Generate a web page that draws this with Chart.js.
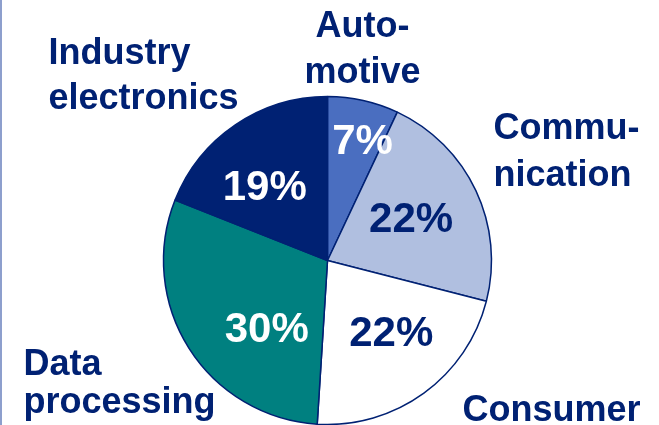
<!DOCTYPE html>
<html>
<head>
<meta charset="utf-8">
<script src="https://cdn.jsdelivr.net/npm/chart.js@4"></script>
<style>
  html, body { margin: 0; padding: 0; background: #ffffff; }
  #wrap { position: relative; width: 659px; height: 425px; overflow: hidden; }
  #edge { position: absolute; left: 0; top: 0; width: 2px; height: 425px; background: #8d9fcd; }
  canvas { position: absolute; left: 0; top: 0; }
</style>
</head>
<body>
<div id="wrap">
  <canvas id="c" width="659" height="425"></canvas>
  <div id="edge"></div>
</div>
<script>
// ---- data ----
const categories = ["Automotive", "Communication", "Consumer", "Data processing", "Industry electronics"];
const shares = [7, 22, 22, 30, 19];
const categoryLabelLines = [["Auto-", "motive"], ["Commu-", "nication"], ["Consumer"], ["Data", "processing"], ["Industry", "electronics"]];

// ---- styles ----
const sliceColors = ["#4a6ec0", "#b0bfe0", "#ffffff", "#008080", "#002173"];
const pctColors = ["#ffffff", "#002173", "#002173", "#ffffff", "#ffffff"];
const navy = "#002173";
// percentage label placement relative to each slice: angular nudge (deg) and radius fraction
const pctPlacement = [
  { da: 3.7, rf: 0.76 },
  { da: -1.4, rf: 0.57 },
  { da: -5.6, rf: 0.585 },
  { da: -15.7, rf: 0.555 },
  { da: -6.2, rf: 0.59 }
];
// category label layout relative to pie centre: x offset, first baseline offset, line gap, alignment
const catPlacement = [
  { dx: 35, dy: -224, gap: 46, align: "center" },
  { dx: 166, dy: -122, gap: 47, align: "left" },
  { dx: 135, dy: 160, gap: 46, align: "left" },
  { dx: -304, dy: 114, gap: 38, align: "left" },
  { dx: -279, dy: -197, gap: 45, align: "left" }
];

const labelPlugin = {
  id: "pieLabels",
  afterDatasetsDraw(chart) {
    const ctx = chart.ctx;
    const meta = chart.getDatasetMeta(0);
    ctx.save();
    ctx.textBaseline = "middle";
    meta.data.forEach((arc, i) => {
      const p = arc.getProps(["x", "y", "startAngle", "endAngle", "outerRadius"], true);
      const mid = (p.startAngle + p.endAngle) / 2 + pctPlacement[i].da * Math.PI / 180;
      const r = p.outerRadius * pctPlacement[i].rf;
      const x = p.x + Math.cos(mid) * r;
      const y = p.y + Math.sin(mid) * r;
      ctx.font = "bold 42px 'Liberation Sans', Arial, sans-serif";
      ctx.fillStyle = pctColors[i];
      ctx.textAlign = "center";
      ctx.fillText(shares[i] + "%", x, y + 2);
    });
    const c = meta.data[0];
    ctx.textBaseline = "alphabetic";
    ctx.font = "bold 36px 'Liberation Sans', Arial, sans-serif";
    ctx.fillStyle = navy;
    categoryLabelLines.forEach((lines, i) => {
      const pl = catPlacement[i];
      ctx.textAlign = pl.align;
      lines.forEach((line, j) => {
        ctx.fillText(line, c.x + pl.dx, c.y + pl.dy + j * pl.gap);
      });
    });
    ctx.restore();
  }
};

new Chart(document.getElementById("c"), {
  type: "pie",
  data: {
    labels: categories,
    datasets: [{
      data: shares,
      backgroundColor: sliceColors,
      borderColor: navy,
      borderWidth: 1.5
    }]
  },
  options: {
    responsive: false,
    animation: false,
    radius: 164,
    layout: { padding: { left: 164, right: 168, top: 96, bottom: 0 } },
    plugins: { legend: { display: false }, tooltip: { enabled: false } }
  },
  plugins: [labelPlugin]
});
</script>
</body>
</html>
